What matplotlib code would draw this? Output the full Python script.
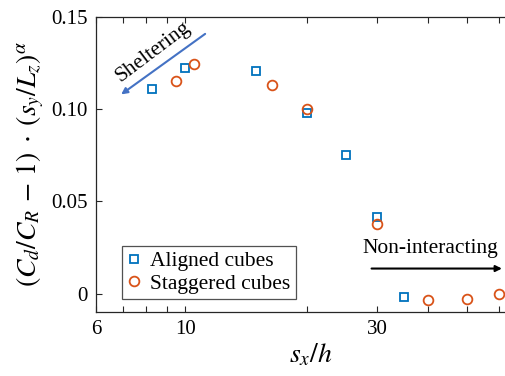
import matplotlib

matplotlib.use('Agg')
import matplotlib.pyplot as plt
from matplotlib.ticker import FixedLocator, FixedFormatter, NullFormatter

# data
aligned_x = [8.25, 10.0, 15.0, 20.0, 25.0, 30.0, 35.0]
aligned_y = [0.1109, 0.1223, 0.1207, 0.0978, 0.0750, 0.0413, -0.0016]
staggered_x = [9.5, 10.5, 16.4, 20.0, 30.0, 40.0, 50.0, 60.0]
staggered_y = [0.1152, 0.1245, 0.1130, 0.1000, 0.0375, -0.0033, -0.0027, 0.0000]

x_major = [6, 10, 30]
x_minor = [7, 8, 9, 20, 40, 50, 60]
y_ticks = [0, 0.05, 0.10, 0.15]
y_labels = ["0", "0.05", "0.10", "0.15"]

plt.rcParams['font.family'] = ['Liberation Serif', 'DejaVu Serif']
plt.rcParams['mathtext.fontset'] = 'stix'

fig = plt.figure(figsize=(5.05, 3.76), dpi=100)
ax = fig.add_axes([0.190, 0.170, 0.851, 0.785])

ax.plot(aligned_x, aligned_y, 's', ms=6, mfc='none', mec='#0072BD', mew=1.3,
        label='Aligned cubes')
ax.plot(staggered_x, staggered_y, 'o', ms=7, mfc='none', mec='#D95319', mew=1.3,
        label='Staggered cubes')

ax.set_xscale('log')
ax.set_xlim(6, 70)
ax.set_ylim(-0.01, 0.15)

ax.xaxis.set_major_locator(FixedLocator(x_major))
ax.xaxis.set_major_formatter(FixedFormatter([str(v) for v in x_major]))
ax.xaxis.set_minor_locator(FixedLocator(x_minor))
ax.xaxis.set_minor_formatter(NullFormatter())
ax.set_yticks(y_ticks)
ax.set_yticklabels(y_labels)

ax.tick_params(which='both', direction='in', top=True, right=False,
               labelsize=15, color='#262626', length=4, width=0.8, pad=6)
for s in ax.spines.values():
    s.set_color('#262626')
    s.set_linewidth(0.9)
ax.spines['right'].set_visible(False)

ax.set_xlabel(r'$s_x/h$', fontsize=20, labelpad=2)
ax.set_ylabel(r'$(C_d/C_R\,-\,1)\;\cdot\;(s_y/L_z)^{\alpha}$', fontsize=20, labelpad=4)

# annotations
ax.annotate('', xy=(6.93, 0.108), xytext=(11.2, 0.1408),
            arrowprops=dict(arrowstyle='-|>', color='#4472C4', lw=1.5,
                            mutation_scale=9, shrinkA=0, shrinkB=0))
ax.text(8.3, 0.1310, 'Sheltering', fontsize=15.5, rotation=37,
        ha='center', va='center')
ax.annotate('', xy=(61.1, 0.0136), xytext=(29.0, 0.0136),
            arrowprops=dict(arrowstyle='-|>', color='black', lw=1.5,
                            mutation_scale=9, shrinkA=0, shrinkB=0))
ax.text(40.5, 0.0245, 'Non-interacting', fontsize=15.5, ha='center', va='center')

leg = ax.legend(loc='lower left', bbox_to_anchor=(0.061, 0.044), fontsize=15.5,
                frameon=True, fancybox=False, edgecolor='#262626',
                handlelength=0.6, handletextpad=0.45, borderpad=0.25,
                labelspacing=0.1, borderaxespad=0)
leg.get_frame().set_linewidth(0.9)

fig.savefig('out.png', dpi=100)
